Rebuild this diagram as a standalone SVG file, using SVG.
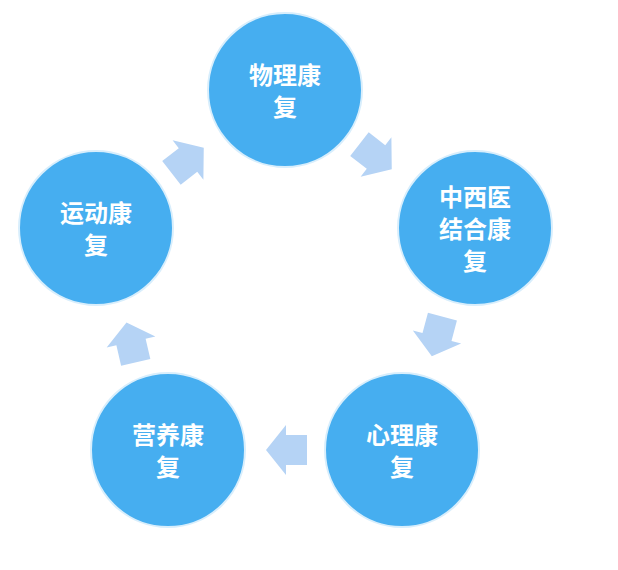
<svg xmlns="http://www.w3.org/2000/svg" width="618" height="570" viewBox="0 0 618 570">
<style>
.c{fill:#46aef0;stroke:#d8eefc;stroke-width:2}
.t{fill:#fff;font-family:"Noto Sans CJK SC",sans-serif;font-weight:bold;font-size:24px;text-anchor:middle}
.a{fill:#b5d3f5}
</style>
<defs><path id="arr" d="M20,0 L0,-25 L0,-15 L-21,-15 L-21,15 L0,15 L0,25 Z"/></defs>
<rect width="618" height="570" fill="#fff"/>
<g id="connectors">
<use href="#arr" class="a" transform="translate(286,450) rotate(180)"/>
<use href="#arr" class="a" transform="translate(131,342) rotate(-103)"/>
<use href="#arr" class="a" transform="translate(188,160) rotate(-38)"/>
<use href="#arr" class="a" transform="translate(376,157) rotate(38)"/>
<use href="#arr" class="a" transform="translate(437,337) rotate(105)"/>
</g>
<g id="n1"><circle class="c" cx="285" cy="90" r="77"/><text class="t" x="285" y="84">物理康</text><text class="t" x="285" y="116">复</text></g>
<g id="n2"><circle class="c" cx="475" cy="228" r="77"/><text class="t" x="475" y="206">中西医</text><text class="t" x="475" y="238">结合康</text><text class="t" x="475" y="270">复</text></g>
<g id="n3"><circle class="c" cx="402" cy="450" r="77"/><text class="t" x="402" y="444">心理康</text><text class="t" x="402" y="476">复</text></g>
<g id="n4"><circle class="c" cx="168" cy="450" r="77"/><text class="t" x="168" y="444">营养康</text><text class="t" x="168" y="476">复</text></g>
<g id="n5"><circle class="c" cx="96" cy="228" r="77"/><text class="t" x="96" y="222">运动康</text><text class="t" x="96" y="254">复</text></g>
</svg>
